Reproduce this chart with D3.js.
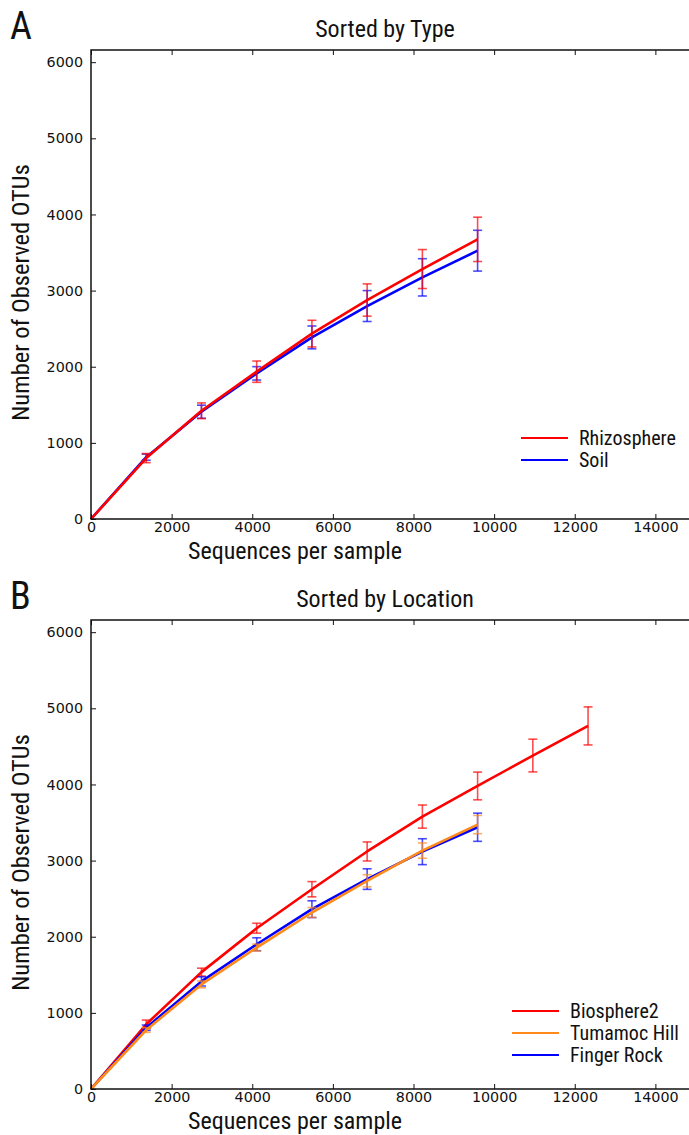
<!DOCTYPE html>
<html><head><meta charset="utf-8">
<script src="https://cdn.jsdelivr.net/npm/d3@7"></script>
<style>
body{margin:0;background:#fff;}
svg{display:block;}
.lab{font-family:"Liberation Sans Narrow","Roboto Condensed","Open Sans",sans-serif;fill:#111;}
.tick text{font-family:"DejaVu Sans",sans-serif;font-size:14.3px;fill:#111;}
</style>
</head><body>
<svg id="c" width="689" height="1135"></svg>
<script>
// ---- data ----
const depthsA = [0, 1370, 2740, 4110, 5480, 6850, 8220, 9590];
const rhizoMean = [0, 800, 1422, 1935, 2435, 2876, 3283, 3673];
const rhizoErr  = [0, 60, 103, 140, 175, 212, 256, 291];
const soilMean  = [0, 812, 1409, 1913, 2385, 2797, 3174, 3524];
const soilErr   = [0, 40, 86, 88, 150, 203, 245, 268];

const depthsB = [0, 1370, 2740, 4110, 5480, 6850, 8220, 9590, 10960, 12330];
const bio2Mean = [0, 850, 1535, 2112, 2624, 3120, 3578, 3980, 4380, 4769];
const bio2Err  = [0, 55, 52, 65, 100, 125, 152, 182, 215, 250];
const tumaMean = [0, 775, 1374, 1858, 2318, 2735, 3131, 3473];
const tumaErr  = [0, 30, 45, 45, 65, 80, 100, 120];
const fingMean = [0, 805, 1413, 1901, 2362, 2757, 3117, 3438];
const fingErr  = [0, 35, 60, 85, 110, 135, 170, 185];

const xTicks = [0, 2000, 4000, 6000, 8000, 10000, 12000, 14000];
const yTicks = [0, 1000, 2000, 3000, 4000, 5000, 6000];

const RED = "#ff0000", BLUE = "#0000ff", ORANGE = "#ff8a1a";

const svg = d3.select("#c");

function panel(cfg){
  const left = 91, right = 695.7, top = cfg.top, bottom = cfg.bottom;
  const x = d3.scaleLinear().domain([0,15000]).range([left,right]);
  const y = d3.scaleLinear().domain([0,6160]).range([bottom,top]);
  const g = svg.append("g");

  // series
  const line = d3.line().x(d=>x(d[0])).y(d=>y(d[1]));
  cfg.series.forEach(s=>{
    const pts = s.mean.map((m,i)=>[cfg.depths[i], m]);
    g.append("path").datum(pts).attr("d",line)
      .attr("fill","none").attr("stroke",s.color).attr("stroke-width",2.6)
      .attr("stroke-linejoin","round");
    const eb = g.append("g").attr("stroke",s.color).attr("stroke-opacity",0.7).attr("stroke-width",1.6);
    pts.slice(1).forEach((p,j)=>{
      const i=j+1, e=s.err[i];
      const cx = x(p[0]), y1=y(p[1]+e), y2=y(p[1]-e);
      eb.append("line").attr("x1",cx).attr("x2",cx).attr("y1",y1).attr("y2",y2);
      eb.append("line").attr("x1",cx-4.5).attr("x2",cx+4.5).attr("y1",y1).attr("y2",y1);
      eb.append("line").attr("x1",cx-4.5).attr("x2",cx+4.5).attr("y1",y2).attr("y2",y2);
    });
  });

  // axes (ticks inward)
  const ax = g.append("g").attr("transform",`translate(0,${bottom})`)
    .call(d3.axisBottom(x).tickValues(xTicks).tickFormat(d3.format("d")).tickSizeInner(-5).tickSizeOuter(0).tickPadding(3));
  ax.select(".domain").remove();
  const axT = g.append("g").attr("transform",`translate(0,${top})`)
    .call(d3.axisTop(x).tickValues(xTicks).tickFormat("").tickSizeInner(-5).tickSizeOuter(0));
  axT.select(".domain").remove();
  const ay = g.append("g").attr("transform",`translate(${left},0)`)
    .call(d3.axisLeft(y).tickValues(yTicks).tickFormat(d3.format("d")).tickSizeInner(-5).tickSizeOuter(0).tickPadding(8));
  ay.select(".domain").remove();
  g.selectAll(".tick line").attr("stroke","#111").attr("stroke-width",1);
  // spines
  g.append("path").attr("d",`M${right},${top}H${left}V${bottom}H${right}`)
    .attr("fill","none").attr("stroke","#111").attr("stroke-width",1.5);

  // labels
  g.append("text").attr("class","lab").attr("x",385).attr("y",top-13)
    .attr("text-anchor","middle").attr("font-size",24).text(cfg.title);
  g.append("text").attr("class","lab").attr("x",10).attr("y",top-11)
    .attr("font-size",38).text(cfg.letter);
  g.append("text").attr("class","lab").attr("x",295).attr("y",bottom+40)
    .attr("text-anchor","middle").attr("font-size",24).text("Sequences per sample");
  g.append("text").attr("class","lab")
    .attr("transform",`translate(29,${(top+bottom)/2+8}) rotate(-90)`)
    .attr("text-anchor","middle").attr("font-size",24.5).text("Number of Observed OTUs");

  // legend
  cfg.legend.forEach((s,i)=>{
    const ly = cfg.legY + i*cfg.legStep;
    g.append("line").attr("x1",cfg.legX).attr("x2",cfg.legX+47).attr("y1",ly).attr("y2",ly)
      .attr("stroke",s.color).attr("stroke-width",2);
    g.append("text").attr("class","lab").attr("x",cfg.legX+58).attr("y",ly+7)
      .attr("font-size",20).text(s.name);
  });
}

panel({
  top:50, bottom:519, title:"Sorted by Type", letter:"A", depths:depthsA,
  series:[
    {color:BLUE, mean:soilMean, err:soilErr},
    {color:RED, mean:rhizoMean, err:rhizoErr}
  ],
  legend:[{name:"Rhizosphere",color:RED},{name:"Soil",color:BLUE}],
  legX:521, legY:438, legStep:22
});
panel({
  top:620, bottom:1089, title:"Sorted by Location", letter:"B", depths:depthsB,
  series:[
    {color:RED, mean:bio2Mean, err:bio2Err},
    {color:BLUE, mean:fingMean, err:fingErr},
    {color:ORANGE, mean:tumaMean, err:tumaErr}
  ],
  legend:[{name:"Biosphere2",color:RED},{name:"Tumamoc Hill",color:ORANGE},{name:"Finger Rock",color:BLUE}],
  legX:512, legY:1011, legStep:22
});
</script>
</body></html>
